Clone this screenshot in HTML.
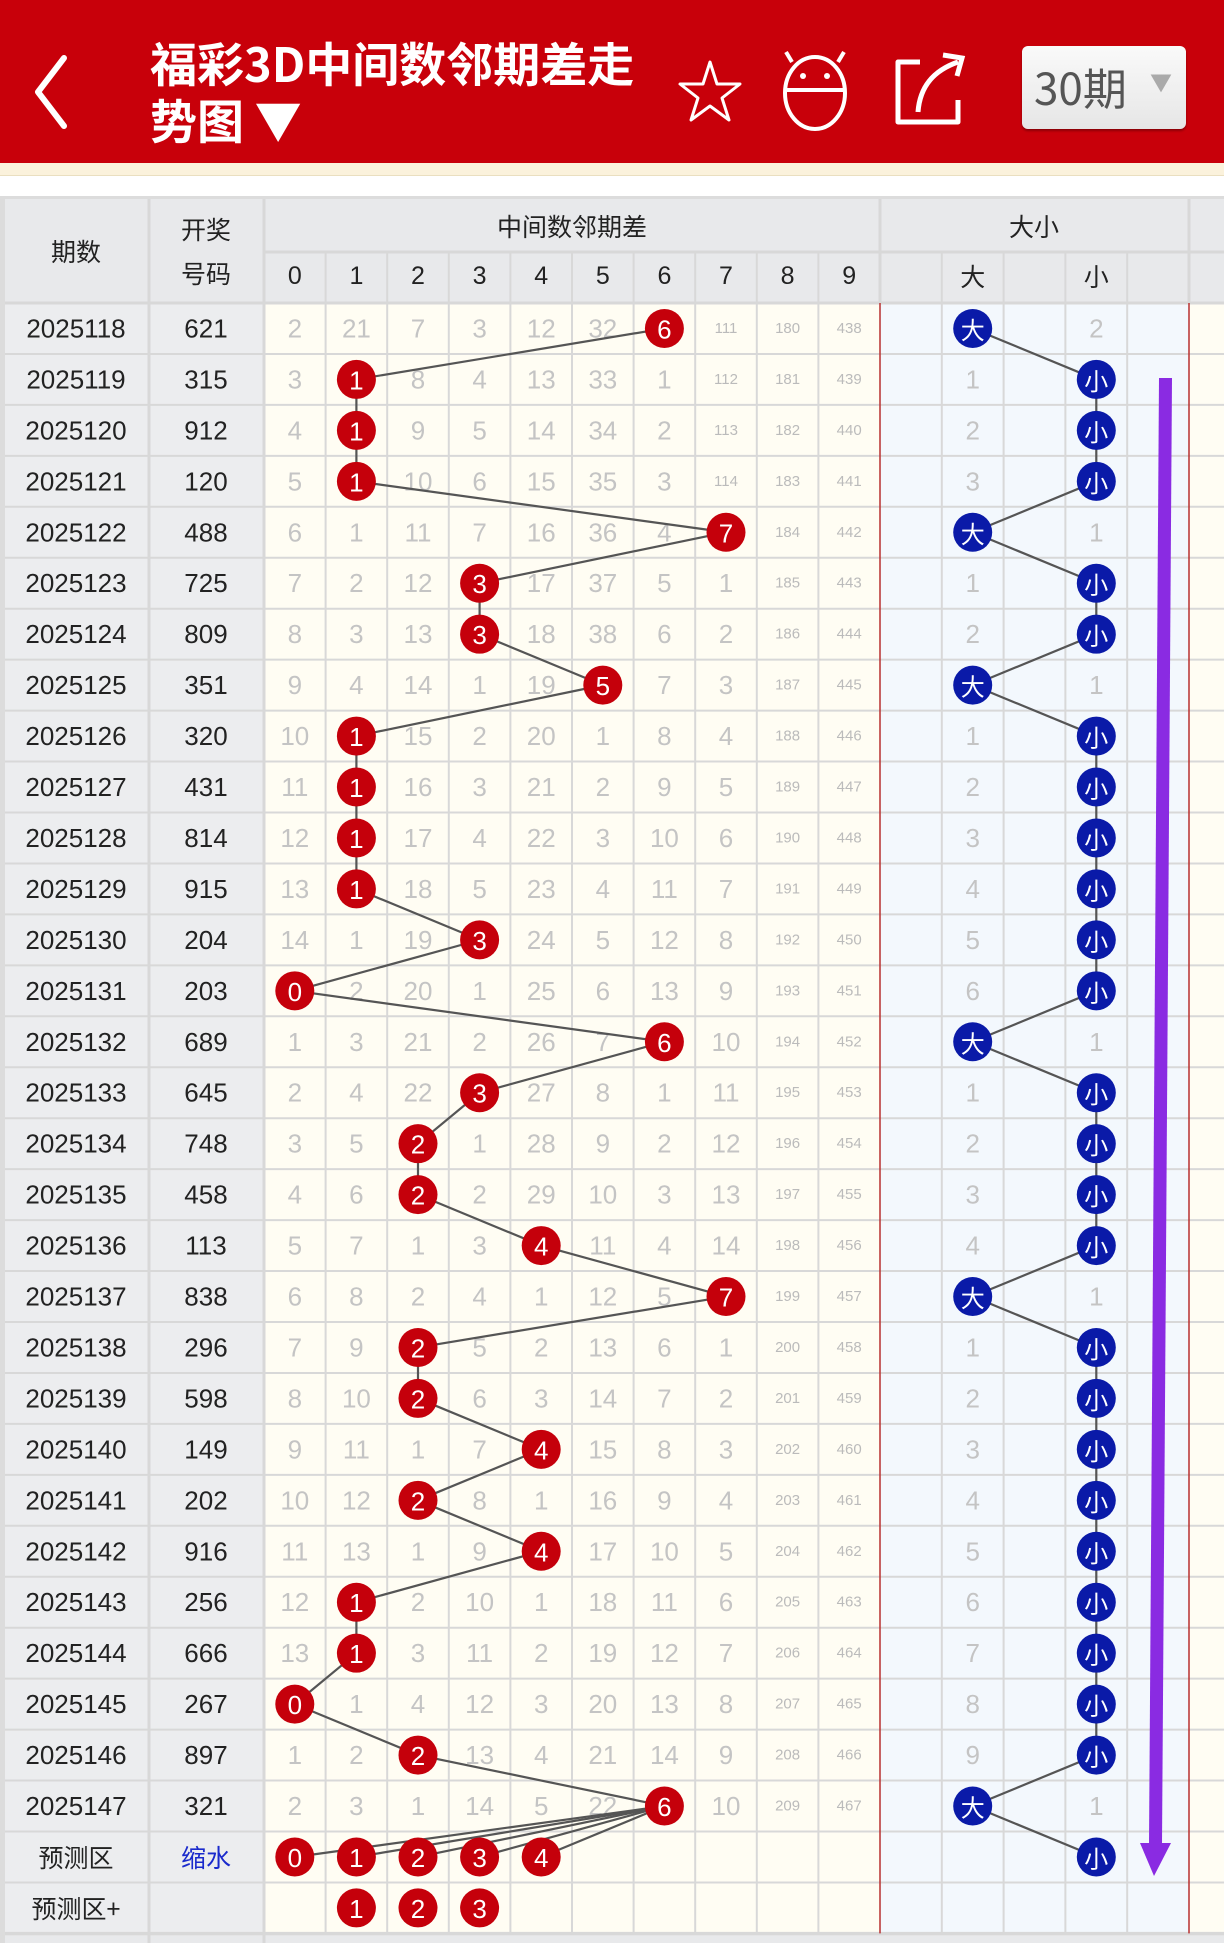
<!DOCTYPE html>
<html><head><meta charset="utf-8">
<style>
html,body{margin:0;padding:0;background:#fff;width:1224px;height:1943px;overflow:hidden;font-family:"Liberation Sans","Noto Sans CJK SC",sans-serif;}
#hdr{position:absolute;left:0;top:0;width:1224px;height:163px;background:#c8000a;}
#strip{position:absolute;left:0;top:163px;width:1224px;height:12px;background:#fbf2dc;border-bottom:1px solid #eadfc0;}
#t1,#t2{position:absolute;left:150px;color:#fff;font-weight:bold;font-size:47px;font-family:"Noto Sans CJK SC",sans-serif;white-space:nowrap;line-height:1;}
#t1{top:38px}#t2{top:95px}
#btn{position:absolute;left:1022px;top:46px;width:164px;height:83px;background:linear-gradient(#fafafa,#e6e6e6);border-radius:6px;box-shadow:0 2px 2px rgba(0,0,0,.3);color:#555;font-size:44px;font-family:"Noto Sans CJK SC",sans-serif;}
#chart{position:absolute;left:0;top:0}
</style></head><body>
<svg id="chart" width="1224" height="1943"></svg>
<div id="hdr"></div><div id="strip"></div>
<div id="t1">福彩3D中间数邻期差走</div>
<div id="t2">势图 ▼</div>
<div id="btn"><span style="position:absolute;left:12px;top:8px">30期</span><span style="position:absolute;left:128px;top:20px;font-size:22px;color:#aaa">▼</span></div>
<svg style="position:absolute;left:0;top:0" width="1224" height="170">
<polyline points="64,58 38,92 64,126" fill="none" stroke="#fff" stroke-width="6" stroke-linecap="round" stroke-linejoin="round"/>
<polygon points="710,62 717,84 740,84 722,98 729,120 710,106 691,120 698,98 680,84 703,84" fill="none" stroke="#fff" stroke-width="3" stroke-linejoin="round"/>
<ellipse cx="815" cy="93" rx="30" ry="36" fill="none" stroke="#fff" stroke-width="4"/>
<line x1="785" y1="90" x2="845" y2="90" stroke="#fff" stroke-width="4"/>
<line x1="792" y1="62" x2="786" y2="52" stroke="#fff" stroke-width="4"/>
<line x1="838" y1="62" x2="844" y2="52" stroke="#fff" stroke-width="4"/>
<circle cx="803" cy="76" r="3" fill="#fff"/><circle cx="827" cy="76" r="3" fill="#fff"/>
<path d="M920,62 L898,62 L898,122 L958,122 L958,100" fill="none" stroke="#fff" stroke-width="5" stroke-linejoin="round"/>
<path d="M918,112 C920,85 935,70 958,62" fill="none" stroke="#fff" stroke-width="5"/>
<path d="M943,55 L962,58 L957,76" fill="none" stroke="#fff" stroke-width="5"/>
</svg>
<script>
(function(){
var data=[
["2025118","621",[2,21,7,3,12,32,6,111,180,438],6,1,2],
["2025119","315",[3,1,8,4,13,33,1,112,181,439],1,0,1],
["2025120","912",[4,1,9,5,14,34,2,113,182,440],1,0,2],
["2025121","120",[5,1,10,6,15,35,3,114,183,441],1,0,3],
["2025122","488",[6,1,11,7,16,36,4,7,184,442],7,1,1],
["2025123","725",[7,2,12,3,17,37,5,1,185,443],3,0,1],
["2025124","809",[8,3,13,3,18,38,6,2,186,444],3,0,2],
["2025125","351",[9,4,14,1,19,5,7,3,187,445],5,1,1],
["2025126","320",[10,1,15,2,20,1,8,4,188,446],1,0,1],
["2025127","431",[11,1,16,3,21,2,9,5,189,447],1,0,2],
["2025128","814",[12,1,17,4,22,3,10,6,190,448],1,0,3],
["2025129","915",[13,1,18,5,23,4,11,7,191,449],1,0,4],
["2025130","204",[14,1,19,3,24,5,12,8,192,450],3,0,5],
["2025131","203",[0,2,20,1,25,6,13,9,193,451],0,0,6],
["2025132","689",[1,3,21,2,26,7,6,10,194,452],6,1,1],
["2025133","645",[2,4,22,3,27,8,1,11,195,453],3,0,1],
["2025134","748",[3,5,2,1,28,9,2,12,196,454],2,0,2],
["2025135","458",[4,6,2,2,29,10,3,13,197,455],2,0,3],
["2025136","113",[5,7,1,3,4,11,4,14,198,456],4,0,4],
["2025137","838",[6,8,2,4,1,12,5,7,199,457],7,1,1],
["2025138","296",[7,9,2,5,2,13,6,1,200,458],2,0,1],
["2025139","598",[8,10,2,6,3,14,7,2,201,459],2,0,2],
["2025140","149",[9,11,1,7,4,15,8,3,202,460],4,0,3],
["2025141","202",[10,12,2,8,1,16,9,4,203,461],2,0,4],
["2025142","916",[11,13,1,9,4,17,10,5,204,462],4,0,5],
["2025143","256",[12,1,2,10,1,18,11,6,205,463],1,0,6],
["2025144","666",[13,1,3,11,2,19,12,7,206,464],1,0,7],
["2025145","267",[0,1,4,12,3,20,13,8,207,465],0,0,8],
["2025146","897",[1,2,2,13,4,21,14,9,208,466],2,0,9],
["2025147","321",[2,3,1,14,5,22,6,10,209,467],6,1,1]
];
var s='';
function R(x,y,w,h,c){s+='<rect x="'+x+'" y="'+y+'" width="'+w+'" height="'+h+'" fill="'+c+'"/>';}
function T(x,y,t,sz,c,extra){s+='<text x="'+x+'" y="'+y+'" font-size="'+sz+'" fill="'+c+'" text-anchor="middle" dominant-baseline="central" '+(extra||'')+'>'+t+'</text>';}
function L(x1,y1,x2,y2,c,w){s+='<line x1="'+x1+'" y1="'+y1+'" x2="'+x2+'" y2="'+y2+'" stroke="'+c+'" stroke-width="'+w+'"/>';}
var T0=199,h1=252,h2=303,rh=50.95,dx0=264,dw=61.6,bx0=880,bw=61.8;
function cx(i){return dx0+dw*i+dw/2;}
function bxc(j){return bx0+bw*j+bw/2;}
function cy(r){return h2+rh*r+rh/2;}
var nrows=32,bottom=h2+rh*nrows;
R(0,196,1224,1747,'#dcdcdc');
R(5,T0,1219,h2-T0,'#e8e9eb');
R(5,h2,259,bottom-h2,'#ecedef');
R(dx0,h2,616,bottom-h2,'#fffdf3');
R(bx0,h2,309,bottom-h2,'#f3f8fd');
R(1189,h2,35,bottom-h2,'#fffdf3');
R(5,bottom+2,1219,20,'#e8e9eb');
var gc='#d8d8d8';
L(149,T0,149,bottom+20,gc,3);L(264,T0,264,bottom+20,gc,3);
for(var i=1;i<10;i++)L(dx0+dw*i,h1,dx0+dw*i,bottom,gc,2);
for(var j=1;j<5;j++)L(bx0+bw*j,h1,bx0+bw*j,bottom,gc,2);
L(880,T0,880,h2,gc,3);L(1189,T0,1189,h2,gc,3);
L(264,h1,1224,h1,gc,3);
for(var r=0;r<=nrows;r++)L(5,h2+rh*r,1224,h2+rh*r,gc,r==0||r==nrows?3:2);
L(880,h2,880,bottom,'#b83030',1.5);L(1189,h2,1189,bottom,'#b83030',1.5);
var hf='font-family="Noto Sans CJK SC,sans-serif"';
T(76,251,'期数',25,'#222',hf);
T(206,229,'开奖',25,'#222',hf);T(206,273,'号码',25,'#222',hf);
T(572,226,'中间数邻期差',25,'#222',hf);T(1034,226,'大小',25,'#222',hf);
for(var i=0;i<10;i++)T(cx(i),276,i,25,'#222');
T(bxc(1),276,'大',25,'#222',hf);T(bxc(3),276,'小',25,'#222',hf);
var lines='',balls='';
function RB(x,y,t){balls+='<circle cx="'+x+'" cy="'+y+'" r="19.5" fill="#c5000b"/><text x="'+x+'" y="'+(y+1)+'" font-size="26" fill="#fff" text-anchor="middle" dominant-baseline="central">'+t+'</text>';}
function BB(x,y,t){balls+='<circle cx="'+x+'" cy="'+y+'" r="19.5" fill="#0a1aa8"/><text x="'+x+'" y="'+y+'" font-size="24" fill="#fff" text-anchor="middle" dominant-baseline="central" '+hf+'>'+t+'</text>';}
function LL(x1,y1,x2,y2){lines+='<line x1="'+x1+'" y1="'+y1+'" x2="'+x2+'" y2="'+y2+'" stroke="#555" stroke-width="2.2"/>';}
for(var r=0;r<data.length;r++){
 var d=data[r],y=cy(r);
 T(76,y,d[0],26,'#222');T(206,y,d[1],26,'#222');
 for(var i=0;i<10;i++){
  if(i==d[3]){RB(cx(i),y,i);continue;}
  var v=d[2][i];
  if(v>=100)T(cx(i),y,v,15,'#bbb');else T(cx(i),y,v,26,'#c4c4c4');
 }
 if(d[4]==1){BB(bxc(1),y,'大');T(bxc(3),y,d[5],26,'#c4c4c4');}
 else{BB(bxc(3),y,'小');T(bxc(1),y,d[5],26,'#c4c4c4');}
 if(r>0){var p=data[r-1];LL(cx(p[3]),cy(r-1),cx(d[3]),y);
  LL(bxc(p[4]?1:3),cy(r-1),bxc(d[4]?1:3),y);}
}
var yp=cy(30),yq=cy(31);
T(76,yp,'预测区',25,'#222',hf);T(206,yp,'缩水',25,'#1a2acc',hf);
for(var i=0;i<5;i++){LL(cx(6),cy(29),cx(i),yp);RB(cx(i),yp,i);}
LL(bxc(1),cy(29),bxc(3),yp);BB(bxc(3),yp,'小');
T(76,yq,'预测区+',25,'#222',hf);
for(var i=1;i<4;i++)RB(cx(i),yq,i);
s+=lines+balls;
s+='<polygon points="1159,378 1172,378 1162,1845 1149,1845" fill="#8a2be2"/>';
s+='<polygon points="1140,1843 1171,1843 1154,1876" fill="#8a2be2"/>';
document.getElementById('chart').innerHTML=s;
})();
</script>
</body></html>
